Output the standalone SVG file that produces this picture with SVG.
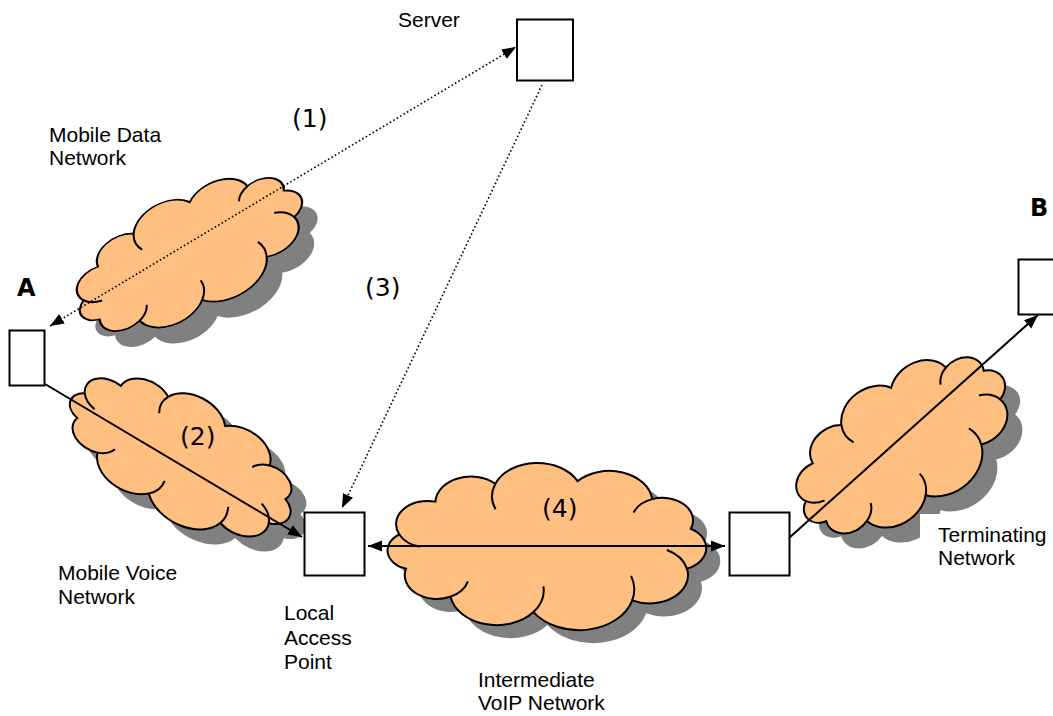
<svg xmlns="http://www.w3.org/2000/svg" width="1053" height="716" viewBox="0 0 1053 716">
<style>
.lbl{font-family:"Liberation Sans",Arial,sans-serif;font-size:21px;fill:#000}
.num{font-family:"DejaVu Sans",Verdana,sans-serif;font-size:25px;fill:#000}
.big{font-family:"DejaVu Sans",Verdana,sans-serif;font-size:24px;font-weight:bold;fill:#000}
.box{fill:#fff;stroke:#000;stroke-width:2}
.cf{fill:#FFBF80;stroke:#000;stroke-width:2}
.ci{fill:none;stroke:#000;stroke-width:2}
.sh{fill:#808080}
.solid{stroke:#000;stroke-width:2;fill:none}
.dot{stroke:#000;stroke-width:1.6;fill:none;stroke-dasharray:1.6 2.4}
</style>
<defs>
<path id="cloudOut" d="M -93.97 20.52 A 17.2 17.2 0 0 1 -98.48 -10.42 A 21.1 21.1 0 0 1 -74.31 -40.15 A 23.8 23.8 0 0 1 -34.20 -56.38 A 30.3 30.3 0 0 1 20.79 -58.69 A 28.9 28.9 0 0 1 70.71 -42.43 A 20.5 20.5 0 0 1 96.59 -15.53 A 19.9 19.9 0 0 1 93.97 20.52 A 25.6 25.6 0 0 1 57.36 49.15 A 36.8 36.8 0 0 1 -8.72 59.77 A 31.5 31.5 0 0 1 -64.28 45.96 A 21.5 21.5 0 0 1 -93.97 20.52 Z"/>
<path id="cloudIn" d="M -98.48 -10.42 A 21.1 21.1 0 0 0 -84.59 0.71 M -34.20 -56.38 A 30.3 30.3 0 0 0 -34.08 -33.22 M 70.71 -42.43 A 20.5 20.5 0 0 0 58.28 -30.32 M 93.97 20.52 A 25.6 25.6 0 0 0 80.54 3.60 M -8.72 59.77 A 31.5 31.5 0 0 0 -2.06 36.61 M 57.36 49.15 A 36.8 36.8 0 0 0 56.58 27.0 M -64.28 45.96 A 21.5 21.5 0 0 0 -52.56 32.08"/>
<marker id="ah" markerUnits="userSpaceOnUse" markerWidth="16" markerHeight="12" refX="14" refY="6" orient="auto-start-reverse" viewBox="0 0 16 12">
<path d="M0,0.5 L14,6 L0,11.5 Z" fill="#000"/>
</marker>
</defs>

<g id="cloud-mobile-data">
<use href="#cloudOut" class="sh" transform="translate(205,270) rotate(-27.7) scale(1.17,0.78)"/>
<use href="#cloudOut" class="cf" vector-effect="non-scaling-stroke" transform="translate(189.5,254) rotate(-27.7) scale(1.17,0.78)"/>
<g transform="translate(189.5,254) rotate(-27.7) scale(1.17,0.78)"><path d="M -98.48 -10.42 A 21.1 21.1 0 0 0 -84.59 0.71 M -34.20 -56.38 A 30.3 30.3 0 0 0 -34.08 -33.22 M 70.71 -42.43 A 20.5 20.5 0 0 0 58.28 -30.32 M 93.97 20.52 A 25.6 25.6 0 0 0 80.54 3.60 M -8.72 59.77 A 31.5 31.5 0 0 0 -2.06 36.61 M 57.36 49.15 A 36.8 36.8 0 0 0 56.58 27.0 M -64.28 45.96 A 21.5 21.5 0 0 0 -52.56 32.08" class="ci" vector-effect="non-scaling-stroke"/></g>
</g>

<g id="cloud-mobile-voice">
<use href="#cloudOut" class="sh" transform="translate(196,471) rotate(28.8) scale(1.163,0.81)"/>
<g transform="translate(181,456) rotate(28.8) scale(1.163,0.81)">
<path d="M -93.97 20.52 A 17.2 17.2 0 0 1 -98.48 -10.42 A 21.1 21.1 0 0 1 -74.31 -40.15 A 23.8 23.8 0 0 1 -34.20 -56.38 A 30.3 30.3 0 0 1 20.79 -58.69 A 28.9 28.9 0 0 1 70.71 -42.43 A 20.5 20.5 0 0 1 96.59 -15.53 A 19.9 19.9 0 0 1 93.97 20.52 A 25.6 25.6 0 0 1 57.36 49.15 A 36.8 36.8 0 0 1 -8.72 59.77 A 31.5 31.5 0 0 1 -64.28 45.96 A 21.5 21.5 0 0 1 -93.97 20.52 Z" class="cf" vector-effect="non-scaling-stroke"/>
<path d="M -98.48 -10.42 A 21.1 21.1 0 0 0 -84.59 0.71 M -34.20 -56.38 A 30.3 30.3 0 0 0 -34.08 -33.22 M 70.71 -42.43 A 20.5 20.5 0 0 0 58.28 -30.32 M 93.97 20.52 A 25.6 25.6 0 0 0 80.54 3.60 M -8.72 59.77 A 31.5 31.5 0 0 0 -2.06 36.61 M 57.36 49.15 A 36.8 36.8 0 0 0 56.58 27.0 M -64.28 45.96 A 21.5 21.5 0 0 0 -52.56 32.08" class="ci" vector-effect="non-scaling-stroke"/>
</g>
</g>

<g id="cloud-intermediate">
<use href="#cloudOut" class="sh" transform="translate(560.5,559) scale(1.495,1.105)"/>
<g transform="translate(546.5,546) scale(1.495,1.105)">
<path d="M -93.97 20.52 A 17.2 17.2 0 0 1 -98.48 -10.42 A 21.1 21.1 0 0 1 -74.31 -40.15 A 23.8 23.8 0 0 1 -34.20 -56.38 A 30.3 30.3 0 0 1 20.79 -58.69 A 28.9 28.9 0 0 1 70.71 -42.43 A 20.5 20.5 0 0 1 96.59 -15.53 A 19.9 19.9 0 0 1 93.97 20.52 A 25.6 25.6 0 0 1 57.36 49.15 A 36.8 36.8 0 0 1 -8.72 59.77 A 31.5 31.5 0 0 1 -64.28 45.96 A 21.5 21.5 0 0 1 -93.97 20.52 Z" class="cf" vector-effect="non-scaling-stroke"/>
<path d="M -98.48 -10.42 A 21.1 21.1 0 0 0 -84.59 0.71 M -34.20 -56.38 A 30.3 30.3 0 0 0 -34.08 -33.22 M 70.71 -42.43 A 20.5 20.5 0 0 0 58.28 -30.32 M 93.97 20.52 A 25.6 25.6 0 0 0 80.54 3.60 M -8.72 59.77 A 31.5 31.5 0 0 0 -2.06 36.61 M 57.36 49.15 A 36.8 36.8 0 0 0 56.58 27.0 M -64.28 45.96 A 21.5 21.5 0 0 0 -52.56 32.08" class="ci" vector-effect="non-scaling-stroke"/>
</g>
</g>

<g id="cloud-terminating">
<use href="#cloudOut" class="sh" transform="translate(917.5,460) rotate(-35) scale(1.13,0.91)"/>
<rect x="920" y="514" width="133" height="70" fill="#fff"/>
<g transform="translate(902.5,445) rotate(-35) scale(1.13,0.91)">
<path d="M -93.97 20.52 A 17.2 17.2 0 0 1 -98.48 -10.42 A 21.1 21.1 0 0 1 -74.31 -40.15 A 23.8 23.8 0 0 1 -34.20 -56.38 A 30.3 30.3 0 0 1 20.79 -58.69 A 28.9 28.9 0 0 1 70.71 -42.43 A 20.5 20.5 0 0 1 96.59 -15.53 A 19.9 19.9 0 0 1 93.97 20.52 A 25.6 25.6 0 0 1 57.36 49.15 A 36.8 36.8 0 0 1 -8.72 59.77 A 31.5 31.5 0 0 1 -64.28 45.96 A 21.5 21.5 0 0 1 -93.97 20.52 Z" class="cf" vector-effect="non-scaling-stroke"/>
<path d="M -98.48 -10.42 A 21.1 21.1 0 0 0 -84.59 0.71 M -34.20 -56.38 A 30.3 30.3 0 0 0 -34.08 -33.22 M 70.71 -42.43 A 20.5 20.5 0 0 0 58.28 -30.32 M 93.97 20.52 A 25.6 25.6 0 0 0 80.54 3.60 M -8.72 59.77 A 31.5 31.5 0 0 0 -2.06 36.61 M 57.36 49.15 A 36.8 36.8 0 0 0 56.58 27.0 M -64.28 45.96 A 21.5 21.5 0 0 0 -52.56 32.08" class="ci" vector-effect="non-scaling-stroke"/>
</g>
</g>

<g id="node-server"><rect class="box" x="517" y="19.5" width="56" height="61"/><text class="lbl" x="398" y="27">Server</text></g>
<g id="node-a"><rect class="box" x="9.5" y="330.5" width="35" height="55"/><text class="big" x="17" y="296">A</text></g>
<g id="node-b"><rect class="box" x="1018.5" y="259.5" width="40" height="55"/><text class="big" x="1030" y="216">B</text></g>
<g id="node-lap"><rect class="box" x="304.5" y="512.5" width="60" height="63"/><text class="lbl"><tspan x="284" y="620">Local</tspan><tspan x="284" y="645">Access</tspan><tspan x="284" y="669">Point</tspan></text></g>
<g id="node-gw"><rect class="box" x="729.5" y="512.5" width="60" height="63"/></g>

<g id="labels">
<text class="lbl"><tspan x="49" y="142">Mobile Data</tspan><tspan x="49" y="165">Network</tspan></text>
<text class="lbl"><tspan x="58" y="580">Mobile Voice</tspan><tspan x="58" y="604">Network</tspan></text>
<text class="lbl"><tspan x="478" y="687">Intermediate</tspan><tspan x="478" y="710">VoIP Network</tspan></text>
<text class="lbl"><tspan x="938" y="542">Terminating</tspan><tspan x="938" y="565">Network</tspan></text>
</g>

<g id="connectors">
<line class="dot" x1="50" y1="326" x2="516" y2="47" marker-start="url(#ah)" marker-end="url(#ah)"/>
<line class="solid" x1="45" y1="384" x2="302" y2="537" marker-end="url(#ah)"/>
<line class="dot" x1="542" y1="85" x2="342" y2="508" marker-end="url(#ah)"/>
<line class="solid" x1="368" y1="546" x2="725" y2="546" marker-start="url(#ah)" marker-end="url(#ah)"/>
<line class="solid" x1="789" y1="538" x2="1038" y2="315" marker-end="url(#ah)"/>
<text class="num" x="292" y="127">(1)</text>
<text class="num" x="180" y="445">(2)</text>
<text class="num" x="365" y="296">(3)</text>
<text class="num" x="542" y="517">(4)</text>
</g>
</svg>
